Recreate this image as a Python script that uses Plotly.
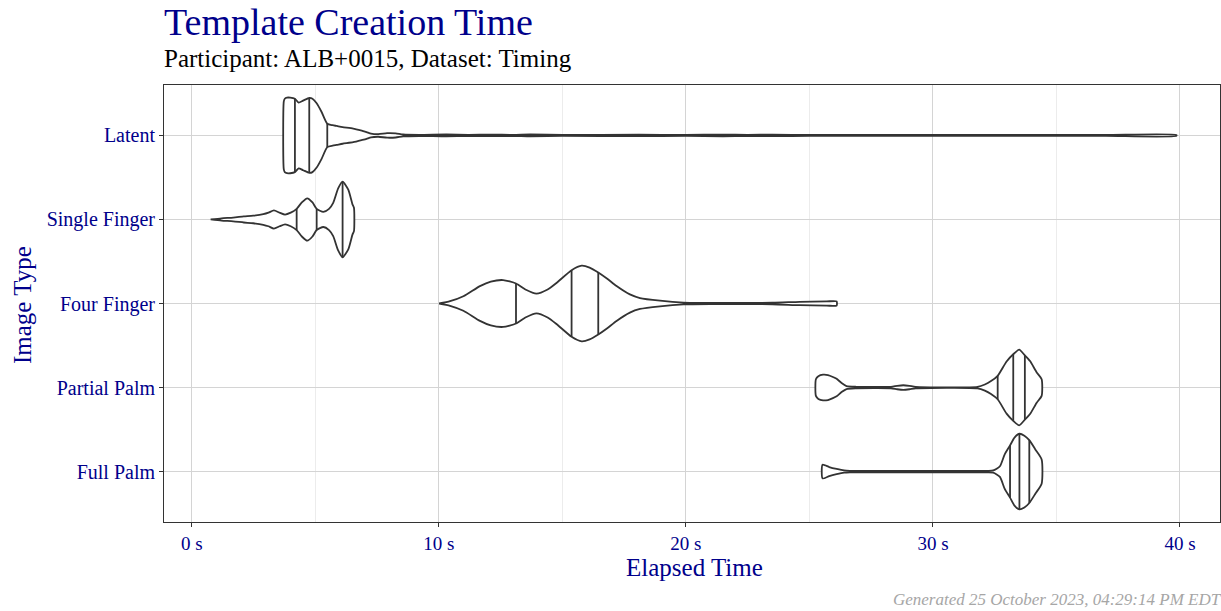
import numpy as np
import plotly.graph_objects as go

# ---------------- data ----------------
CATEGORIES = ["Latent", "Single Finger", "Four Finger", "Partial Palm", "Full Palm"]
CAT_POS = [5, 4, 3, 2, 1]

# violin outlines: elapsed seconds and relative half-width (1 = widest)
LAT_S = [3.72, 3.76, 3.85, 3.98, 4.17, 4.32, 4.50, 4.75, 4.88, 5.05, 5.25, 5.48, 5.70, 5.86, 6.10,
         6.53, 6.90, 7.07, 7.25, 7.55, 7.90, 8.25, 8.55, 9.2, 10.3, 11.2, 12.1, 13.0, 13.7,
         15.0, 18.1, 20.0, 21.5, 22.5, 23.5, 25.0, 28.0, 31.0, 34.0, 37.0, 39.85]
LAT_W = [0.90, 0.97, 1.00, 1.00, 0.97, 0.87, 0.92, 0.99, 0.97, 0.85, 0.62, 0.31, 0.27, 0.25, 0.22,
         0.18, 0.12, 0.09, 0.05, 0.035, 0.06, 0.055, 0.025, 0.015, 0.025, 0.015, 0.02, 0.015, 0.025,
         0.014, 0.018, 0.014, 0.022, 0.015, 0.02, 0.014, 0.014, 0.014, 0.014, 0.014, 0.014]
LAT_Q = [4.17, 4.75, 5.48]

SF_S = [0.76, 1.20, 1.67, 2.10, 2.48, 2.89, 3.10, 3.32, 3.55, 3.77, 4.00, 4.24, 4.45, 4.67, 4.88,
        5.05, 5.32, 5.55, 5.72, 5.92, 6.10, 6.33, 6.50, 6.56]
SF_W = [0.00, 0.03, 0.05, 0.08, 0.10, 0.14, 0.18, 0.24, 0.18, 0.13, 0.18, 0.28, 0.45, 0.56, 0.45,
        0.28, 0.20, 0.28, 0.44, 0.82, 1.00, 0.79, 0.40, 0.31]
SF_Q = [4.24, 5.05, 6.10]

FF_S = [10.01, 10.45, 10.99, 11.66, 12.10, 12.60, 13.12, 13.50, 13.95, 14.40, 14.77, 15.37, 15.78,
        16.10, 16.45, 16.80, 17.19, 17.73, 18.14, 18.95, 19.90, 21.0, 23.5, 24.6, 25.7, 26.1]
FF_W = [0.00, 0.06, 0.19, 0.46, 0.58, 0.62, 0.53, 0.37, 0.26, 0.37, 0.55, 0.88, 1.00,
        0.95, 0.82, 0.66, 0.46, 0.24, 0.145, 0.075, 0.025, 0.015, 0.02, 0.045, 0.055, 0.055]
FF_Q = [13.12, 15.37, 16.45]

PP_S = [25.26, 25.36, 25.55, 25.75, 25.95, 26.10, 26.30, 26.50, 26.90, 28.30, 28.55, 28.80, 29.05,
        29.30, 31.80, 32.10, 32.35, 32.62, 32.98, 33.25, 33.49, 33.72, 33.93, 34.20, 34.40]
PP_W = [0.22, 0.30, 0.34, 0.33, 0.28, 0.23, 0.12, 0.04, 0.02, 0.02, 0.045, 0.06, 0.045,
        0.02, 0.02, 0.08, 0.17, 0.31, 0.69, 0.88, 1.00, 0.85, 0.70, 0.40, 0.22]
PP_Q = [32.62, 33.25, 33.72]

FP_S = [25.53, 25.80, 26.10, 26.40, 26.64, 27.50, 32.20, 32.44, 32.71, 32.90, 33.12, 33.30, 33.50,
        33.70, 33.90, 34.15, 34.40]
FP_W = [0.18, 0.12, 0.07, 0.03, 0.02, 0.02, 0.02, 0.03, 0.14, 0.45, 0.69, 0.90, 1.00,
        0.95, 0.83, 0.58, 0.32]
FP_Q = [33.12, 33.50, 33.90]

X_TICKS = [0, 10, 20, 30, 40]
X_TICK_LABELS = ["0 s", "10 s", "20 s", "30 s", "40 s"]

TITLE = "Template Creation Time"
SUBTITLE = "Participant: ALB+0015, Dataset: Timing"
CAPTION = "Generated 25 October 2023, 04:29:14 PM EDT"

# ---------------- styling ----------------
FONT = "Liberation Serif"
DARKBLUE = "#00008B"
OUTLINE = "#333333"
HALF = 0.45  # max half-width of a violin in category units

profiles = [(LAT_S, LAT_W, LAT_Q), (SF_S, SF_W, SF_Q), (FF_S, FF_W, FF_Q),
            (PP_S, PP_W, PP_Q), (FP_S, FP_W, FP_Q)]

fig = go.Figure()
for (s, w, q), c in zip(profiles, CAT_POS):
    s = np.asarray(s, float)
    w = np.asarray(w, float)
    xs = np.concatenate([s, s[::-1], s[:1]])
    ys = np.concatenate([c + HALF * w, (c - HALF * w)[::-1], [c + HALF * w[0]]])
    fig.add_trace(go.Scatter(x=xs, y=ys, mode="lines", fill="toself", fillcolor="white",
                             line=dict(color=OUTLINE, width=1.8, shape="spline", smoothing=0.6),
                             hoverinfo="skip", showlegend=False))
    qx, qy = [], []
    for qv in q:
        wq = float(np.interp(qv, s, w))
        qx += [qv, qv, None]
        qy += [c - HALF * wq, c + HALF * wq, None]
    fig.add_trace(go.Scatter(x=qx, y=qy, mode="lines", line=dict(color=OUTLINE, width=1.8),
                             hoverinfo="skip", showlegend=False))

W, H = 1221, 611
L, R, T, B = 164, 1, 85, 89
pw, ph = W - L - R, H - T - B


def px(x):
    return (x - L) / pw


def py(y):
    return (H - B - y) / ph


fig.update_layout(
    width=W, height=H,
    margin=dict(l=L, r=R, t=T, b=B, autoexpand=False),
    paper_bgcolor="white", plot_bgcolor="white",
    font=dict(family=FONT, color=DARKBLUE),
    xaxis=dict(range=[-1.13, 41.62], tickvals=X_TICKS, ticktext=X_TICK_LABELS,
               showgrid=True, gridcolor="#d4d4d4", gridwidth=1,
               minor=dict(dtick=5, tick0=0, showgrid=True, gridcolor="#ececec", gridwidth=1),
               showline=True, linecolor=OUTLINE, linewidth=1, mirror=True,
               ticks="outside", ticklen=4, tickcolor=OUTLINE, tickwidth=1, automargin=False,
               tickfont=dict(family=FONT, size=19, color=DARKBLUE), zeroline=False),
    yaxis=dict(range=[0.4, 5.6], tickvals=CAT_POS, ticktext=CATEGORIES,
               showgrid=True, gridcolor="#d4d4d4", gridwidth=1,
               showline=True, linecolor=OUTLINE, linewidth=1, mirror=True,
               ticks="outside", ticklen=4, tickcolor=OUTLINE, tickwidth=1, automargin=False,
               tickfont=dict(family=FONT, size=20, color=DARKBLUE), zeroline=False),
    annotations=[
        dict(text=TITLE, x=px(162), y=py(22), xref="paper", yref="paper",
             xanchor="left", yanchor="middle", showarrow=False,
             font=dict(family=FONT, size=38, color=DARKBLUE)),
        dict(text=SUBTITLE, x=px(162), y=py(58), xref="paper", yref="paper",
             xanchor="left", yanchor="middle", showarrow=False,
             font=dict(family=FONT, size=25, color="black")),
        dict(text="Elapsed Time", x=px(694), y=py(567), xref="paper", yref="paper",
             xanchor="center", yanchor="middle", showarrow=False,
             font=dict(family=FONT, size=25, color=DARKBLUE)),
        dict(text="Image Type", x=px(22), y=py(305), xref="paper", yref="paper",
             xanchor="center", yanchor="middle", showarrow=False, textangle=-90,
             font=dict(family=FONT, size=25, color=DARKBLUE)),
        dict(text="<i>" + CAPTION + "</i>", x=px(1224), y=py(599), xref="paper", yref="paper",
             xanchor="right", yanchor="middle", showarrow=False,
             font=dict(family=FONT, size=17, color="#a6a6a6")),
    ],
)

fig.write_html("out.html", config={"displayModeBar": False},
               post_script="document.body.style.margin='0';document.body.style.overflow='hidden';")
